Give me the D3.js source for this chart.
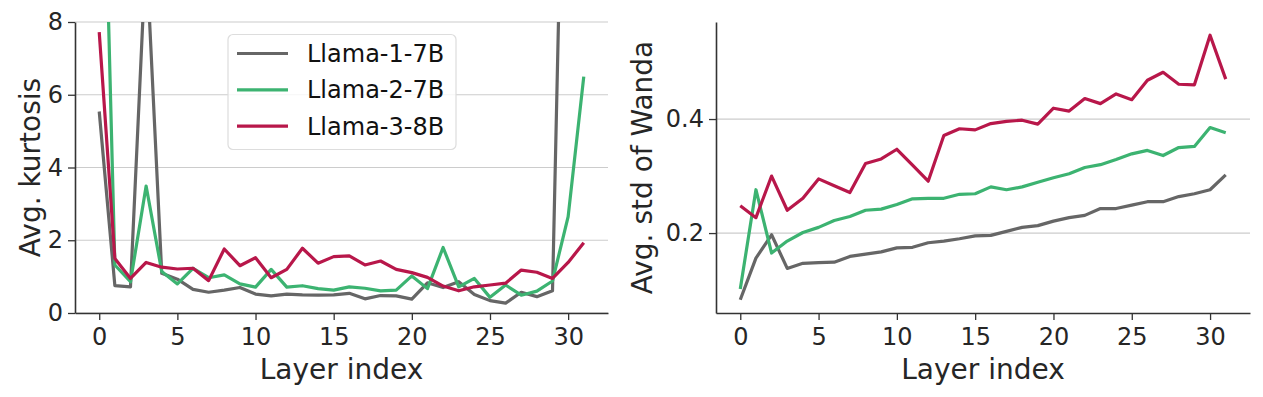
<!DOCTYPE html>
<html>
<head>
<meta charset="utf-8">
<script src="https://cdn.jsdelivr.net/npm/d3@7"></script>
<style>
  body { margin: 0; background: #fff; }
  svg { display: block; font-family: "DejaVu Sans", sans-serif; }
  .tick text { fill: #262626; }
</style>
</head>
<body>
<svg id="chart" width="1263" height="397"></svg>
<script>
// layer indices 0..31
var layers = d3.range(32);

var seriesNames = ["Llama-1-7B", "Llama-2-7B", "Llama-3-8B"];
var seriesColors = ["#666666", "#3cb371", "#b8174a"];

// avg. kurtosis per layer (left plot)
var kurtLlama1 = [5.54, 0.75, 0.72, 10.0, 1.09, 0.93, 0.65, 0.57, 0.63, 0.70,
                  0.52, 0.47, 0.52, 0.50, 0.49, 0.50, 0.54, 0.39, 0.48, 0.47,
                  0.38, 0.83, 0.70, 0.86, 0.51, 0.34, 0.27, 0.57, 0.45, 0.61,
                  20.0, 22.0];
var kurtLlama2 = [18.0, 1.32, 0.86, 3.49, 1.14, 0.80, 1.23, 0.97, 1.05, 0.80,
                  0.71, 1.20, 0.71, 0.75, 0.67, 0.63, 0.72, 0.68, 0.61, 0.63,
                  1.02, 0.67, 1.80, 0.72, 0.95, 0.43, 0.77, 0.49, 0.60, 0.88,
                  2.65, 6.50];
var kurtLlama3 = [7.72, 1.50, 0.95, 1.39, 1.26, 1.21, 1.23, 0.89, 1.76, 1.30,
                  1.52, 0.97, 1.20, 1.78, 1.37, 1.55, 1.57, 1.32, 1.43, 1.20,
                  1.11, 0.98, 0.74, 0.61, 0.72, 0.77, 0.82, 1.18, 1.12, 0.95,
                  1.39, 1.93];

// avg. std of Wanda per layer (right plot)
var stdLlama1 = [0.083, 0.156, 0.197, 0.138, 0.147, 0.148, 0.149, 0.159, 0.163, 0.167,
                 0.174, 0.175, 0.183, 0.186, 0.190, 0.195, 0.196, 0.203, 0.210, 0.213,
                 0.221, 0.227, 0.231, 0.243, 0.243, 0.249, 0.255, 0.255, 0.264, 0.269,
                 0.276, 0.302];
var stdLlama2 = [0.102, 0.276, 0.165, 0.186, 0.201, 0.210, 0.222, 0.229, 0.240, 0.242,
                 0.250, 0.260, 0.261, 0.261, 0.268, 0.269, 0.281, 0.276, 0.281, 0.289,
                 0.297, 0.304, 0.315, 0.320, 0.329, 0.339, 0.345, 0.336, 0.350, 0.352,
                 0.385, 0.376];
var stdLlama3 = [0.248, 0.227, 0.300, 0.240, 0.261, 0.295, 0.283, 0.271, 0.322, 0.330,
                 0.347, 0.319, 0.291, 0.371, 0.383, 0.381, 0.392, 0.396, 0.398, 0.391,
                 0.419, 0.414, 0.436, 0.427, 0.444, 0.434, 0.468, 0.482, 0.461, 0.460,
                 0.547, 0.470];

var xTicks = [0, 5, 10, 15, 20, 25, 30];
var kurtTicks = [0, 2, 4, 6, 8];
var stdTicks = [0.2, 0.4];

var svg = d3.select("#chart");
svg.append("rect").attr("width", 1263).attr("height", 397).attr("fill", "#fff");

var plotTop = 22, plotBottom = 313;

function drawPanel(opts) {
  var g = svg.append("g");
  var x = d3.scaleLinear().domain([-1.55, 32.55]).range([opts.left, opts.right]);
  var y = d3.scaleLinear().domain(opts.yDomain).range([plotBottom, plotTop]);

  // grid
  g.append("g").selectAll("line").data(opts.yTicks).enter().append("line")
    .attr("x1", opts.left).attr("x2", opts.right)
    .attr("y1", function(d) { return y(d); }).attr("y2", function(d) { return y(d); })
    .attr("stroke", "#cccccc").attr("stroke-width", 1.2);

  var clipId = "clip" + opts.id;
  g.append("clipPath").attr("id", clipId).append("rect")
    .attr("x", opts.left).attr("y", plotTop).attr("width", opts.right - opts.left).attr("height", plotBottom - plotTop);

  var line = d3.line().x(function(d, i) { return x(layers[i]); }).y(function(d) { return y(d); });
  g.append("g").attr("clip-path", "url(#" + clipId + ")")
    .selectAll("path").data(opts.series).enter().append("path")
    .attr("d", function(d) { return line(d); })
    .attr("fill", "none")
    .attr("stroke", function(d, i) { return seriesColors[i]; })
    .attr("stroke-width", 3.2)
    .attr("stroke-linejoin", "round")
    .attr("stroke-linecap", "butt");

  var xAxis = g.append("g").attr("transform", "translate(0," + plotBottom + ")")
    .call(d3.axisBottom(x).tickValues(xTicks).tickSize(7).tickPadding(8).tickSizeOuter(0));
  var yAxis = g.append("g").attr("transform", "translate(" + opts.left + ",0)")
    .call(d3.axisLeft(y).tickValues(opts.yTicks).tickFormat(opts.fmt).tickSize(7).tickPadding(5).tickSizeOuter(0));

  [xAxis, yAxis].forEach(function(a) {
    a.select(".domain").attr("stroke", "#333").attr("stroke-width", 1.6);
    a.selectAll(".tick line").attr("stroke", "#333").attr("stroke-width", 1.3);
    a.selectAll(".tick text").attr("font-size", 24).attr("font-family", "DejaVu Sans");
  });

  g.append("text")
    .attr("x", (opts.left + opts.right) / 2).attr("y", 379)
    .attr("text-anchor", "middle").attr("font-size", 28).attr("fill", "#262626")
    .text("Layer index");

  g.append("text")
    .attr("transform", "translate(" + opts.labelX + "," + ((plotTop + plotBottom) / 2) + ") rotate(-90)")
    .attr("text-anchor", "middle").attr("font-size", 28).attr("fill", "#262626")
    .text(opts.yLabel);
  return g;
}

drawPanel({
  id: "L", left: 75, right: 608,
  yDomain: [0, 8], yTicks: kurtTicks, fmt: d3.format("d"),
  series: [kurtLlama1, kurtLlama2, kurtLlama3],
  yLabel: "Avg. kurtosis", labelX: 40
});

var allStd = stdLlama1.concat(stdLlama2, stdLlama3);
var sMin = d3.min(allStd), sMax = d3.max(allStd), pad = (sMax - sMin) * 0.05;
drawPanel({
  id: "R", left: 716, right: 1250,
  yDomain: [sMin - pad, sMax + pad], yTicks: stdTicks, fmt: d3.format(".1f"),
  series: [stdLlama1, stdLlama2, stdLlama3],
  yLabel: "Avg. std of Wanda", labelX: 652
});

// legend (left panel)
var leg = svg.append("g");
leg.append("rect").attr("x", 228).attr("y", 34.5).attr("width", 228).attr("height", 115)
  .attr("rx", 5).attr("fill", "#fff").attr("fill-opacity", 0.8)
  .attr("stroke", "#dddddd").attr("stroke-width", 1.2);
var rows = leg.selectAll("g.row").data(seriesNames).enter().append("g")
  .attr("transform", function(d, i) { return "translate(0," + (53.5 + i * 36.3) + ")"; });
rows.append("line").attr("x1", 237).attr("x2", 288)
  .attr("stroke", function(d, i) { return seriesColors[i]; }).attr("stroke-width", 3.2);
rows.append("text").attr("x", 307).attr("y", 8.5)
  .attr("font-size", 24).attr("fill", "#111")
  .text(function(d) { return d; });
</script>
</body>
</html>
